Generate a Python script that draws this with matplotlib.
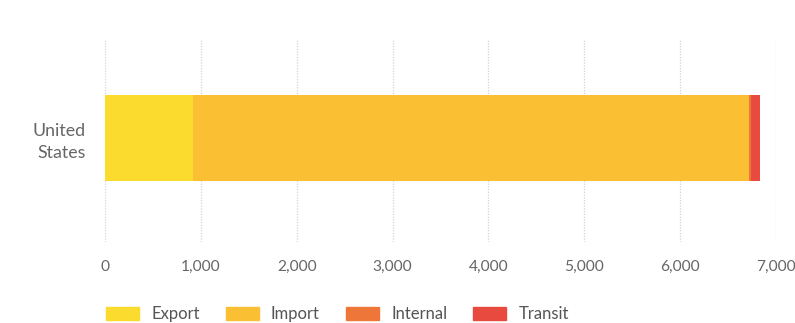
import matplotlib.pyplot as plt
from matplotlib.patches import Patch

plt.rcParams['font.family'] = ['Lato', 'DejaVu Sans']

country = ['United\nStates']
labels = ['Export', 'Import', 'Internal', 'Transit']
values = [918, 5804, 12, 94]
colors = ['#FCDB2F', '#FBBF33', '#EF7639', '#E84A3F']

fig = plt.figure(figsize=(7.95, 3.23), dpi=100)
ax = fig.add_axes([105 / 795, 1 - 242 / 323, 671 / 795, 202 / 323])

left = 0
for lab, v, c in zip(labels, values, colors):
    ax.barh(0, v, left=left, height=0.86, color=c, label=lab, linewidth=0)
    left += v

ax.set_xlim(0, 7000)
ax.set_ylim(-1.03, 0.97)
ax.set_xticks(range(0, 7001, 1000))
ax.set_xticklabels([f'{t:,}' for t in range(0, 7001, 1000)])
ax.set_yticks([0])
ax.set_yticklabels(country, linespacing=1.45)
ax.xaxis.grid(True, color='#d2d2d2', linestyle=(0, (1, 1.2)), linewidth=0.9)
ax.set_axisbelow(True)
for s in ax.spines.values():
    s.set_visible(False)
ax.tick_params(axis='both', length=0, colors='#666666', labelsize=11.2)
ax.tick_params(axis='x', pad=13)
ax.tick_params(axis='y', pad=14, labelsize=12.8)

handles = [Patch(color=c) for c in colors]
fig.legend(handles, labels, loc='center left', bbox_to_anchor=(91 / 795, 1 - 314 / 323),
           ncol=4, frameon=False, fontsize=12, handlelength=2.0, handleheight=0.8,
           handletextpad=0.72, columnspacing=1.55, labelcolor='#555555')

fig.savefig('out.png', dpi=100)
